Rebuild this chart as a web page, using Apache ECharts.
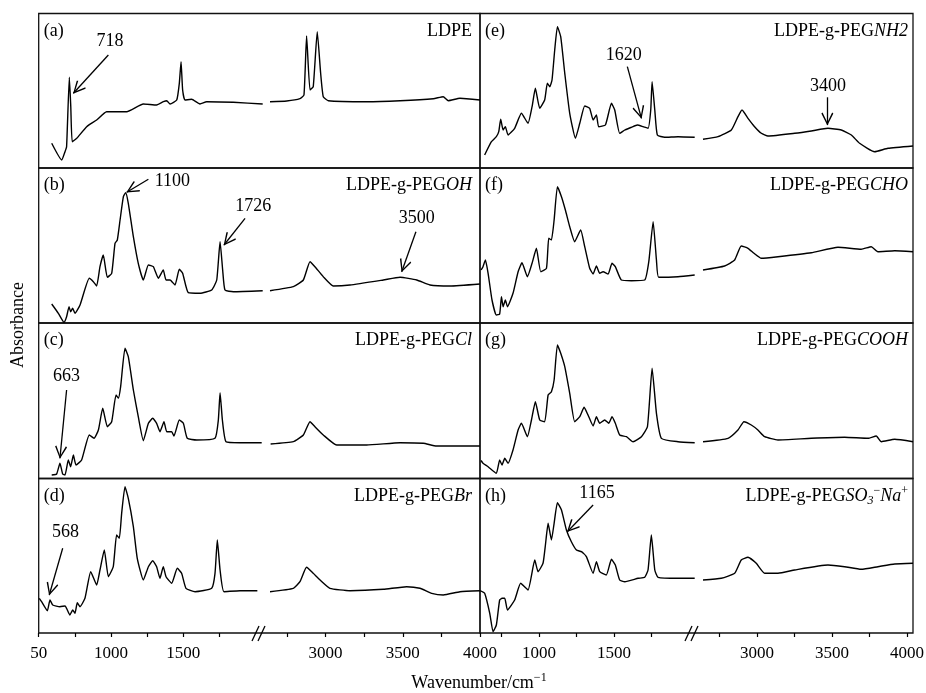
<!DOCTYPE html>
<html>
<head>
<meta charset="utf-8">
<script src="https://cdn.jsdelivr.net/npm/echarts@6/dist/echarts.min.js"></script>
<style>
  html, body { margin: 0; padding: 0; background: #fff; }
  #chart { width: 926px; height: 693px; }
</style>
</head>
<body>
<div id="chart"></div>
<script>
// spectra: [wavenumber, absorbance (arb.)], split at the axis break
const specA_low = [[590,24.7],[659,8],[682,16.3],[693,21.3],[712,90.7],[722,61.3],[732,26.3],[763,29.7],[832,41.3],[901,48],[970,56.3],[1109,56.3],[1224,64],[1316,63],[1363,66.3],[1386,67.3],[1409,64],[1455,68],[1473,84.7],[1485,106.3],[1496,78],[1512,68],[1558,68.7],[1616,64],[1662,66.3],[1847,65.7],[2050,64]];
const specA_up = [[2640,66.3],[2748,67],[2834,69.3],[2860,73],[2877,132],[2899,78],[2920,81.3],[2946,136.3],[2968,94.7],[2985,71.3],[3018,67.3],[3266,66.3],[3482,67.3],[3698,69.3],[3762,71.3],[3795,67.3],[3870,69.7],[4000,68]];

const specB_low = [[590,19],[636,9.7],[675,0.7],[693,6.3],[710,16.3],[721,11.3],[735,14.7],[751,9.7],[786,18],[850,44.7],[878,41.3],[901,37],[924,56.3],[947,68],[975,45.7],[1005,49.7],[1028,79.7],[1044,83],[1063,103],[1086,126.3],[1102,130.3],[1120,119.7],[1155,86.3],[1189,59.7],[1224,43],[1259,58],[1293,56.3],[1328,44.7],[1362,53],[1381,43],[1409,43],[1443,38],[1473,53.7],[1496,49.7],[1535,30.3],[1616,29.7],[1697,33],[1732,43],[1755,81.3],[1773,53],[1789,33],[1847,31.3],[2050,32.3]];
const specB_up = [[2640,32.3],[2791,36.3],[2856,43],[2899,61.3],[2931,56.3],[2985,46.3],[3050,37],[3158,38],[3374,43],[3482,45.7],[3590,43],[3676,38],[3806,37],[4000,39]];

const specC_low = [[590,3.5],[624,4.5],[647,15.2],[666,4.5],[682,3.5],[705,18.5],[721,11.8],[740,23.5],[758,13.5],[797,18.5],[850,43.5],[883,40.2],[913,48.5],[943,70.2],[975,51.8],[1005,56.8],[1035,83.5],[1051,80.2],[1067,91.8],[1097,130.2],[1120,121.8],[1155,88.5],[1189,61.8],[1224,37.8],[1259,55.2],[1289,60.2],[1316,55.2],[1339,46.8],[1367,56.8],[1386,46.8],[1420,46.8],[1436,42.5],[1473,58.5],[1501,55.2],[1528,40.2],[1593,38.5],[1720,40.2],[1743,58.5],[1755,85.8],[1771,58.5],[1796,36.8],[1893,35.8],[2043,35.8]];
const specC_up = [[2644,34.5],[2791,36.8],[2856,43.5],[2899,56.8],[2931,51.8],[2985,43.5],[3072,33.5],[3266,33.5],[3482,35.8],[3633,35.2],[3719,32.5],[4000,32.5]];

const specD_low = [[504,34.7],[520,31.3],[560,22.3],[578,33],[597,28],[647,26.3],[682,27],[716,18],[735,23],[751,19.7],[767,30.3],[786,26.3],[820,34.7],[860,61.3],[901,48],[924,63],[954,83],[982,56.3],[1016,66.3],[1039,98],[1058,94.7],[1074,119.7],[1097,146.3],[1120,134.7],[1155,106.3],[1182,74.7],[1224,53],[1259,66.3],[1289,72.3],[1316,66.3],[1339,54.7],[1362,66.3],[1381,56.3],[1420,49.7],[1459,64.7],[1489,59.7],[1519,44.7],[1582,41.3],[1697,44.7],[1720,59.7],[1736,93],[1755,63],[1782,41.3],[1893,42.3],[2013,42.3]];
const specD_up = [[2640,41.3],[2791,44.7],[2834,51.3],[2877,65.7],[2920,59.7],[2964,53],[3028,44.7],[3158,42.3],[3374,43.7],[3525,46.3],[3611,44.7],[3687,39.7],[3762,38],[3870,41.3],[4000,42.3]];

const specE_low = [[638,13],[683,26.3],[716,31.3],[732,36.3],[745,48.7],[761,38],[776,41.3],[794,33],[838,39.7],[883,54.7],[927,44.7],[954,61.3],[976,79.7],[1005,59.7],[1038,68],[1056,84.7],[1072,81.3],[1087,88],[1105,118],[1123,141.3],[1145,131.3],[1172,94.7],[1205,54.7],[1243,29.7],[1272,44.7],[1305,62],[1338,59.7],[1361,48],[1383,53],[1398,41.3],[1443,43],[1483,64.7],[1505,58],[1538,34.7],[1572,38],[1616,40.7],[1656,43],[1694,41.3],[1727,39.7],[1745,58],[1754,86.3],[1772,58],[1789,33],[1838,30.7],[1927,31.3],[2038,30.7]];
const specE_up = [[2640,28.7],[2740,31.3],[2829,38],[2873,51.3],[2900,58],[2940,49.7],[2984,41.3],[3029,34.7],[3073,32],[3251,34.7],[3362,37],[3473,39.7],[3562,38],[3629,33],[3684,24.7],[3784,16.3],[3873,19.7],[4040,22]];

const specF_low = [[614,53],[627,56.3],[643,63],[661,49.7],[687,23],[716,8],[738,9],[750,26.3],[761,16.3],[776,23],[790,16.3],[827,29.7],[861,51.3],[887,60.3],[923,46.3],[954,59.7],[983,74.7],[1012,51.3],[1050,54.7],[1065,84.7],[1083,83],[1101,103],[1123,136.3],[1150,126.3],[1176,113],[1205,96.3],[1238,81.3],[1278,93],[1305,76.3],[1338,54.7],[1361,49],[1383,57],[1405,49.7],[1427,51.3],[1461,49],[1487,59.7],[1509,56.3],[1549,43],[1616,42.3],[1705,43],[1732,61.3],[1761,101.3],[1783,63],[1798,45.7],[1927,46.3],[2038,48]];
const specF_up = [[2640,53],[2784,57],[2851,63],[2895,77],[2940,74.7],[2980,69.7],[3029,64.7],[3140,66.3],[3362,70.3],[3540,75.7],[3695,73.7],[3762,76.3],[3806,71.3],[3918,72.3],[4040,71.3]];

const specG_low = [[614,18],[627,15.2],[661,11.8],[716,5.2],[738,18.5],[754,13.5],[772,20.2],[794,15.2],[827,28.5],[861,48.5],[883,55.2],[923,41.8],[950,58.5],[976,76.8],[1005,58.5],[1038,56.8],[1061,83.5],[1083,86.8],[1101,98.5],[1123,133.5],[1145,125.2],[1172,111.8],[1205,85.2],[1238,56.8],[1272,61.8],[1301,71.2],[1327,63.5],[1361,52.5],[1383,61.8],[1405,55.2],[1438,58.5],[1465,55.2],[1487,61.8],[1509,55.2],[1538,43.5],[1583,41.8],[1627,36.8],[1683,41.8],[1723,51.8],[1754,110.2],[1783,65.2],[1816,40.2],[1927,36.8],[2038,35.8]];
const specG_up = [[2640,36.8],[2807,40.2],[2873,48.5],[2913,56.8],[2962,53.5],[3006,48.5],[3051,41.8],[3140,38.5],[3362,40.2],[3584,41.2],[3740,40.2],[3795,42.5],[3829,36.8],[3918,39.2],[4040,36.8]];

const specH_low = [[607,42.3],[638,39.7],[672,19.7],[694,1.3],[716,8],[738,33],[754,34.7],[772,34.7],[790,23],[838,33],[878,49.7],[927,43],[972,73],[994,61.3],[1027,69.7],[1043,88],[1061,109.7],[1083,93],[1101,109.7],[1123,130.3],[1150,123],[1183,103],[1216,91.3],[1250,83],[1283,81.3],[1316,76.3],[1361,59.7],[1383,71.3],[1405,61.3],[1449,58],[1483,73.7],[1509,68],[1538,53],[1572,51.3],[1661,54.7],[1705,55.7],[1727,63],[1749,98],[1772,63],[1794,55.7],[1927,54.7],[2038,54.7]];
const specH_up = [[2640,53],[2762,54.7],[2851,59.7],[2895,73],[2940,75.7],[2995,69.7],[3051,59.7],[3140,59.7],[3251,63],[3473,68],[3584,66.3],[3695,63.7],[3806,66.3],[3918,69],[4040,69.7]];

// peak call-outs: label position, arrow tail, arrow tip (data units)
const notesA = [{ text: '718', seg: 'low', at: [993, 126.3], from: [982, 113], to: [740, 74.7] }];
const notesB = [
  { text: '1100', seg: 'low', at: [1425, 141.3], from: [1259, 143.7], to: [1109, 130.7] },
  { text: '1726', seg: 'low', at: [1985, 116.3], from: [1928, 104.7], to: [1782, 78] },
  { text: '3500', seg: 'up', at: [3590, 104.4], from: [3585, 91.3], to: [3493, 51.3] }
];
const notesC = [{ text: '663', seg: 'low', at: [693, 101.8], from: [693, 88.5], to: [647, 20.2] }];
const notesD = [{ text: '568', seg: 'low', at: [686, 100.3], from: [666, 84.7], to: [573, 38] }];
const notesE = [
  { text: '1620', seg: 'low', at: [1565, 113], from: [1589, 101.3], to: [1683, 49.7] },
  { text: '3400', seg: 'up', at: [3473, 81.3], from: [3469, 70.7], to: [3469, 43] }
];
const notesH = [{ text: '1165', seg: 'low', at: [1387, 139.7], from: [1361, 128], to: [1189, 101.3] }];

const lowTicksL = [500, 750, 1000, 1250, 1500, 1750];
const lowLabelsL = [500, 1000, 1500];
const lowTicksR = [750, 1000, 1250, 1500, 1750];
const lowLabelsR = [1000, 1500];
const upTicks = [2750, 3000, 3250, 3500, 3750, 4000];
const upLabels = [3000, 3500, 4000];

const SERIF = '"Liberation Serif","DejaVu Serif",serif';

// layout (px)
const COLS = [
  { frameL: 38.7, frameR: 480, breakX: 258,
    low: { left: 38.7, width: 224, min: 500, max: 2050, ticks: lowTicksL, labels: lowLabelsL },
    up: { left: 270, width: 210, min: 2640, max: 4000, ticks: upTicks, labels: upLabels } },
  { frameL: 480, frameR: 913, breakX: 691,
    low: { left: 480, width: 216.5, min: 607, max: 2050, ticks: lowTicksR, labels: lowLabelsR },
    up: { left: 703, width: 210, min: 2640, max: 4040, ticks: upTicks, labels: upLabels } }
];
const ROWS = [[13.5, 168], [168, 323], [323, 478.5], [478.5, 633]];

const panels = [
  { tag: '(a)', name: '{n|LDPE}', col: 0, row: 0, low: specA_low, up: specA_up, notes: notesA },
  { tag: '(b)', name: '{n|LDPE-g-PEG}{i|OH}', col: 0, row: 1, low: specB_low, up: specB_up, notes: notesB },
  { tag: '(c)', name: '{n|LDPE-g-PEG}{i|Cl}', col: 0, row: 2, low: specC_low, up: specC_up, notes: notesC },
  { tag: '(d)', name: '{n|LDPE-g-PEG}{i|Br}', col: 0, row: 3, low: specD_low, up: specD_up, notes: notesD },
  { tag: '(e)', name: '{n|LDPE-g-PEG}{i|NH2}', col: 1, row: 0, low: specE_low, up: specE_up, notes: notesE },
  { tag: '(f)', name: '{n|LDPE-g-PEG}{i|CHO}', col: 1, row: 1, low: specF_low, up: specF_up, notes: [] },
  { tag: '(g)', name: '{n|LDPE-g-PEG}{i|COOH}', col: 1, row: 2, low: specG_low, up: specG_up, notes: [] },
  { tag: '(h)', name: '{n|LDPE-g-PEG}{i|SO}{sb|3}{sp|\u2212}{i|Na}{sp|+}', col: 1, row: 3, low: specH_low, up: specH_up, notes: notesH }
];

// open arrow head, tip at top
const ARROW = 'path://M0,0 L5,10 L4,10.8 L0,2.4 L-4,10.8 L-5,10 Z';

const rich = {
  n: { fontSize: 18, fontFamily: SERIF, fill: '#000', lineHeight: 22 },
  i: { fontSize: 18, fontFamily: SERIF, fontStyle: 'italic', fill: '#000', lineHeight: 22 },
  sb: { fontSize: 12, fontFamily: SERIF, fontStyle: 'italic', fill: '#000', verticalAlign: 'bottom', lineHeight: 22 },
  sp: { fontSize: 12, fontFamily: SERIF, fill: '#000', verticalAlign: 'top', lineHeight: 22 }
};

const grid = [], xAxis = [], yAxis = [], series = [], graphic = [];

panels.forEach((p) => {
  const col = COLS[p.col];
  const [top, bottom] = ROWS[p.row];
  const bottomRow = p.row === 3;
  ['low', 'up'].forEach((seg) => {
    const s = col[seg];
    const gi = grid.length;
    grid.push({ left: s.left, width: s.width, top: top, height: bottom - top, outerBoundsMode: 'none' });
    xAxis.push({
      gridIndex: gi, type: 'value', min: s.min, max: s.max, show: bottomRow,
      axisLine: { show: false }, splitLine: { show: false },
      axisTick: { show: true, customValues: s.ticks, length: 4, lineStyle: { color: '#000', width: 1.2 } },
      axisLabel: {
        customValues: s.labels, color: '#000', fontSize: 17, fontFamily: SERIF, margin: 12,
        formatter: (v) => (v === 500 ? '50' : String(v))
      }
    });
    yAxis.push({ gridIndex: gi, type: 'value', min: 0, max: bottom - top, show: false });
    const notes = p.notes.filter((n) => n.seg === seg);
    series.push({
      type: 'line', xAxisIndex: gi, yAxisIndex: gi, data: p[seg],
      symbol: 'none', animation: false, silent: true, smooth: 0.15,
      lineStyle: { color: '#000', width: 1.4 },
      markLine: notes.length ? {
        silent: true, animation: false,
        symbol: ['none', ARROW], symbolSize: [12, 13], symbolOffset: [[0, 0], [0, 6]],
        lineStyle: { color: '#000', width: 1.3, type: 'solid' },
        label: { show: false },
        data: notes.map((n) => [{ coord: n.from }, { coord: n.to }])
      } : undefined,
      markPoint: notes.length ? {
        silent: true, animation: false,
        symbol: 'rect', symbolSize: 1, itemStyle: { color: 'rgba(0,0,0,0)' },
        label: { show: true, position: 'inside', color: '#000', fontSize: 18, fontFamily: SERIF, formatter: (q) => q.name },
        data: notes.map((n) => ({ name: n.text, coord: n.at }))
      } : undefined
    });
  });

  graphic.push({
    type: 'rect', silent: true,
    shape: { x: col.frameL, y: top, width: col.frameR - col.frameL, height: bottom - top },
    style: { fill: 'none', stroke: '#111', lineWidth: 1.3 }
  });
  graphic.push({
    type: 'text', silent: true, x: col.frameL + 5, y: top + 17.5,
    style: { text: p.tag, fontSize: 18, fontFamily: SERIF, fill: '#000', align: 'left', verticalAlign: 'middle' }
  });
  graphic.push({
    type: 'text', silent: true, x: col.frameR - (p.col === 0 ? 8 : 5), y: top + 17.5,
    style: { text: p.name, rich: rich, fontSize: 18, fontFamily: SERIF, fill: '#000', align: 'right', verticalAlign: 'middle' }
  });
  if (bottomRow) {
    [0, 6].forEach((dx) => {
      graphic.push({
        type: 'line', silent: true,
        shape: { x1: col.breakX - 6 + dx, y1: bottom + 8, x2: col.breakX + 1 + dx, y2: bottom - 7 },
        style: { stroke: '#000', lineWidth: 1.3 }
      });
    });
  }
});

graphic.push({
  type: 'text', silent: true, x: 18, y: 325, rotation: Math.PI / 2,
  style: { text: 'Absorbance', fontSize: 18, fontFamily: SERIF, fill: '#000', align: 'center', verticalAlign: 'middle' }
});
graphic.push({
  type: 'text', silent: true, x: 479, y: 683,
  style: {
    text: '{n|Wavenumber/cm}{sp|\u22121}', rich: rich, fontSize: 18, fontFamily: SERIF, fill: '#000',
    align: 'center', verticalAlign: 'middle'
  }
});

const chart = echarts.init(document.getElementById('chart'), null, { renderer: 'canvas' });
chart.setOption({
  backgroundColor: '#fff',
  animation: false,
  grid, xAxis, yAxis, series, graphic
});
</script>
</body>
</html>
